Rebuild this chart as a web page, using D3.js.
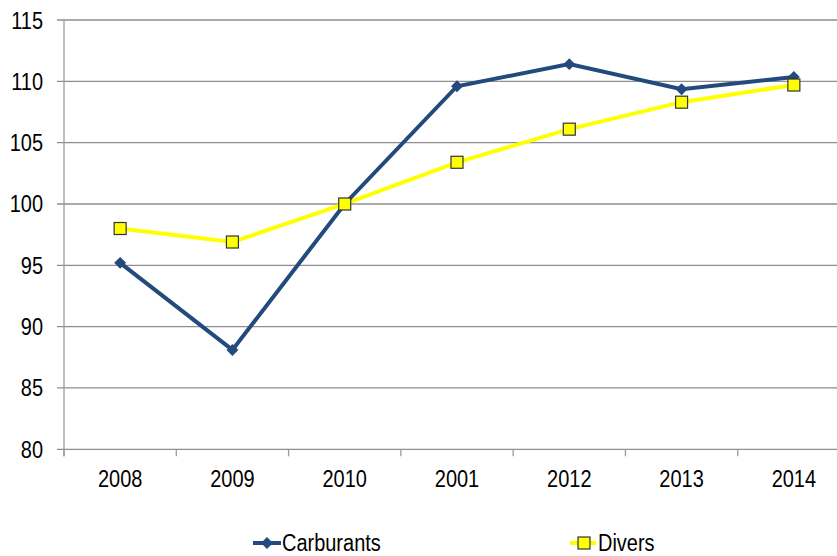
<!DOCTYPE html>
<html>
<head>
<meta charset="utf-8">
<script src="https://cdn.jsdelivr.net/npm/d3@7"></script>
<style>
  body { margin: 0; background: #fff; }
  svg { display: block; }
  text { font-family: "Liberation Sans", Arial, sans-serif; fill: #000; font-size: 23.5px; }
</style>
</head>
<body>
<svg id="chart" width="837" height="556"></svg>
<script>
// data
var years = ["2008", "2009", "2010", "2001", "2012", "2013", "2014"];
var carburants = [95.2, 88.1, 100, 109.6, 111.4, 109.35, 110.35];
var divers = [98.0, 96.9, 100, 103.4, 106.1, 108.3, 109.7];
var yTicks = [80, 85, 90, 95, 100, 105, 110, 115];

var svg = d3.select("#chart");
var plotLeft = 64, plotRight = 850, plotTop = 20, plotBottom = 449.3;
var squeeze = 0.85; // narrow look of the original font

var x = d3.scaleBand().domain(years).range([plotLeft, plotRight]);
var y = d3.scaleLinear().domain([80, 115]).range([plotBottom, plotTop]);

// horizontal gridlines
svg.append("g")
  .selectAll("line")
  .data(yTicks)
  .enter()
  .append("line")
  .attr("x1", 57)
  .attr("x2", 837)
  .attr("y1", d => y(d))
  .attr("y2", d => y(d))
  .attr("stroke", "#8e8e8e")
  .attr("stroke-width", 1.3);

// y axis line
svg.append("line")
  .attr("x1", plotLeft).attr("x2", plotLeft)
  .attr("y1", plotTop).attr("y2", plotBottom + 7)
  .attr("stroke", "#9a9a9a")
  .attr("stroke-width", 1.3);

// y labels
svg.append("g")
  .selectAll("text")
  .data(yTicks)
  .enter()
  .append("text")
  .attr("transform", d => "translate(43," + (y(d) + 8.5) + ") scale(" + squeeze + ",1)")
  .attr("text-anchor", "end")
  .text(d => d);

// x tick marks on band edges
var edges = years.map(d => x(d)).concat([x.range()[1]]);
svg.append("g")
  .selectAll("line")
  .data(edges)
  .enter()
  .append("line")
  .attr("x1", d => d).attr("x2", d => d)
  .attr("y1", plotBottom).attr("y2", plotBottom + 7)
  .attr("stroke", "#9a9a9a")
  .attr("stroke-width", 1.3);

// x labels
svg.append("g")
  .selectAll("text")
  .data(years)
  .enter()
  .append("text")
  .attr("transform", d => "translate(" + (x(d) + x.bandwidth() / 2) + ",487) scale(" + squeeze + ",1)")
  .attr("text-anchor", "middle")
  .text(d => d);

var cx = d => x(d) + x.bandwidth() / 2;
var line = d3.line().x((d, i) => cx(years[i])).y(d => y(d));

var navy = "#234A7C";
var yellow = "#FFFF00";

// Divers line
svg.append("path")
  .datum(divers)
  .attr("d", line)
  .attr("fill", "none")
  .attr("stroke", yellow)
  .attr("stroke-width", 4);

// Carburants line
svg.append("path")
  .datum(carburants)
  .attr("d", line)
  .attr("fill", "none")
  .attr("stroke", navy)
  .attr("stroke-width", 4);

var diamond = d3.symbol().type(d3.symbolDiamond2).size(90);

svg.append("g")
  .selectAll("path")
  .data(carburants)
  .enter()
  .append("path")
  .attr("d", diamond)
  .attr("transform", (d, i) => "translate(" + cx(years[i]) + "," + y(d) + ")")
  .attr("fill", navy);

svg.append("g")
  .selectAll("rect")
  .data(divers)
  .enter()
  .append("rect")
  .attr("x", (d, i) => cx(years[i]) - 6)
  .attr("y", d => y(d) - 6)
  .attr("width", 12)
  .attr("height", 12)
  .attr("fill", yellow)
  .attr("stroke", "#333")
  .attr("stroke-width", 1.2);

// legend
var lg = svg.append("g");
lg.append("line")
  .attr("x1", 253).attr("x2", 281).attr("y1", 543).attr("y2", 543)
  .attr("stroke", navy).attr("stroke-width", 4);
lg.append("path")
  .attr("d", diamond)
  .attr("transform", "translate(267,543)")
  .attr("fill", navy);
lg.append("text")
  .attr("transform", "translate(282,551) scale(" + squeeze + ",1)")
  .text("Carburants");

lg.append("line")
  .attr("x1", 570).attr("x2", 596).attr("y1", 543).attr("y2", 543)
  .attr("stroke", yellow).attr("stroke-width", 4);
lg.append("rect")
  .attr("x", 578).attr("y", 537).attr("width", 12).attr("height", 12)
  .attr("fill", yellow).attr("stroke", "#333").attr("stroke-width", 1.2);
lg.append("text")
  .attr("transform", "translate(598,551) scale(" + squeeze + ",1)")
  .text("Divers");
</script>
</body>
</html>
